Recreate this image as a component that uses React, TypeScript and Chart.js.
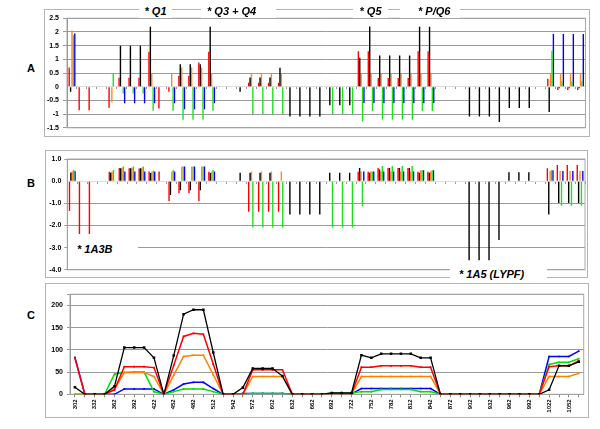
import React, { useEffect, useRef } from "react";
import { Chart, registerables } from "chart.js";

Chart.register(...registerables);

const FONT = "'Liberation Sans', Arial, Helvetica, sans-serif";

const categories = [
  "302", "317", "332", "347", "362", "377", "392", "407", "422", "437",
  "452", "467", "482", "497", "512", "527", "542", "557", "572", "587",
  "602", "617", "632", "647", "662", "677", "692", "707", "722", "737",
  "752", "767", "782", "797", "812", "827", "842", "857", "872", "887",
  "902", "917", "932", "947", "962", "977", "992", "1007", "1022", "1037",
  "1052", "1067",
];

// Panel A
const aRed = [
  0.70, -0.86, -0.86, 0, -0.77, 0.33, 0.33, 0.33, 1.28, -0.80,
  -0.18, 0.40, 0.40, 0.88, 1.28, 0, 0, 0, 0.14, 0.14,
  0.14, 0.14, 0, 0, 0, 0, 0, 0, 0, 1.29,
  1.29, 0.32, 0.32, 0.32, 0.32, 1.29, 1.29, 0, 0, 0,
  0, 0, 0, 0, 0, 0, 0, 0, 0.29, -0.12,
  -0.12, -0.12,
];
const aBlack = [
  -0.18, 0, 0, 0, 0, 1.49, 1.49, 1.49, 2.19, 0,
  0, 0.82, 0.82, 0.82, 2.19, 0, 0, -0.18, 0.34, 0.34,
  0.34, 0.69, -1.09, -1.09, -1.09, -1.09, -0.68, -0.68, -0.68, 1.06,
  2.2, 1.14, 1.14, 1.14, 1.14, 2.19, 2.19, 0, 0, 0,
  -1.09, -1.09, -1.09, -1.29, -0.78, -0.78, -0.78, 0, -0.92, -0.06,
  -0.06, -0.06,
];
const aOrange = [
  2.05, 0, 0, 0, -0.58, 0, 0, 0, 0.49, 0,
  0.49, 0.70, 0.70, 0.70, 0.49, 0, 0, 0, 0.5, 0.5,
  0.5, 0.5, 0, 0, 0, 0, 0, 0, 0, 0.5,
  0.5, 0.5, 0.5, 0.5, 0.5, 0.5, 0.5, 0, 0, 0,
  0, 0, 0, 0, 0, 0, 0, 0, 0.5, 0.5,
  0.5, 0.5,
];
const aGreen = [
  1.88, 0, 0, 0, 0.49, -0.25, -0.25, -0.25, -0.88, 0,
  -0.88, -1.21, -1.21, -1.21, -0.88, 0, 0, 0, -1.0, -1.0,
  -1.0, -1.0, 0, 0, 0, 0, -1.0, -1.0, -1.0, -1.27,
  -0.89, -1.21, -1.21, -1.21, -1.21, -0.89, -0.89, 0, 0, 0,
  0, 0, 0, 0, 0, 0, 0, 0, 1.31, 0.2,
  0.2, 0.2,
];
const aBlue = [
  1.94, 0, 0, 0, 0, -0.6, -0.6, -0.6, -0.6, 0,
  -0.6, -0.82, -0.82, -0.82, -0.6, 0, 0, 0, 0, 0,
  0, 0, 0, 0, 0, 0, 0, 0, 0, -0.6,
  -0.6, -0.6, -0.6, -0.6, -0.6, -0.6, -0.6, 0, 0, 0,
  0, 0, 0, 0, 0, 0, 0, 0, 1.92, 1.92,
  1.92, 1.92,
];

// Panel B
const bRed = [
  -1.35, -2.39, -2.39, 0, 0.43, 0.59, 0.58, 0.57, 0.44, 0.44,
  -0.89, -0.55, -0.55, -0.89, 0.43, 0, 0, 0, -1.38, -1.38,
  -1.38, -1.38, 0, 0, 0, 0, 0, 0, 0, 0.43,
  0.43, 0.59, 0.59, 0.59, 0.59, 0.43, 0.43, 0, 0, 0,
  0, 0, 0, 0, 0, 0, 0, 0, 0.58, 0.73,
  0.73, 0.73,
];
const bBlack = [
  0.39, 0, 0, 0, 0.38, 0.58, 0.58, 0.58, 0.37, 0,
  -0.62, -0.41, -0.41, -0.41, 0.37, 0, 0, 0.38, 0.38, 0.38,
  0.38, 0, -1.5, -1.5, -1.5, -1.5, 0.38, 0.38, 0.38, 0.59,
  0.38, 0.53, 0.59, 0.59, 0.59, 0.38, 0.38, 0, 0, 0,
  -3.57, -3.57, -3.57, -2.65, 0.4, 0.4, 0.4, 0, -1.5, -0.99,
  -0.99, -0.99,
];
const bOrange = [
  0.44, 0, 0, 0, 0.44, 0.62, 0.62, 0.62, 0.44, 0,
  0.44, 0.65, 0.65, 0.65, 0.44, 0, 0, 0, 0.44, 0.44,
  0.44, 0.44, 0, 0, 0, 0, 0, 0, 0, 0.44,
  0.44, 0.44, 0.44, 0.44, 0.44, 0.49, 0.44, 0, 0, 0,
  0, 0, 0, 0, 0, 0, 0, 0, 0.46, 0.46,
  0.46, 0.46,
];
const bGreen = [
  0.5, 0, 0, 0, 0.5, 0.66, 0.66, 0.66, 0.47, 0,
  0.5, 0.66, 0.66, 0.66, 0.5, 0, 0, 0, -2.09, -2.09,
  -2.09, -2.09, 0, 0, 0, 0, -2.09, -2.09, -2.09, -1.13,
  0.44, 0.68, 0.68, 0.68, 0.68, 0.49, 0.49, 0, 0, 0,
  0, 0, 0, 0, 0, 0, 0, 0, 0.49, -1.11,
  -1.11, -1.11,
];
const bBlue = [
  0.45, 0, 0, 0, 0, 0.44, 0.44, 0.44, 0.44, 0,
  0.44, 0.66, 0.66, 0.66, 0.44, 0, 0, 0, 0, 0,
  0, 0, 0, 0, 0, 0, 0, 0, 0, 0.44,
  0.44, 0.44, 0.44, 0.44, 0.44, 0.49, 0.49, 0, 0, 0,
  0, 0, 0, 0, 0, 0, 0, 0, 0.49, 0.46,
  0.46, 0.46,
];

// Panel C
const cBlack = [
  16, 0, 0, 0, 18, 105, 105, 105, 82, 0,
  87, 180, 190, 190, 94, 0, 0, 15, 58, 58,
  58, 41, 0, 0, 0, 0, 3, 3, 3, 88,
  82, 91, 91, 91, 91, 82, 82, 0, 0, 0,
  0, 0, 0, 0, 0, 0, 0, 0, 10, 64,
  64, 73,
];
const cRed = [
  81, 0, 0, 0, 10, 62, 62, 62, 60, 0,
  65, 130, 137, 135, 68, 0, 0, 0, 55, 55,
  55, 55, 0, 0, 0, 0, 1, 1, 1, 61,
  61, 64, 64, 64, 64, 61, 61, 0, 0, 0,
  0, 0, 0, 0, 0, 0, 0, 0, 62, 64,
  64, 75,
];
const cOrange = [
  0, 0, 0, 0, 12, 49, 49, 49, 40, 0,
  43, 85, 88, 88, 44, 0, 0, 0, 40, 40,
  40, 40, 0, 0, 0, 0, 1, 1, 1, 40,
  40, 40, 40, 40, 40, 40, 40, 0, 0, 0,
  0, 0, 0, 0, 0, 0, 0, 0, 40, 40,
  40, 47,
];
const cGreen = [
  0, 0, 0, 0, 45, 49, 50, 50, 6, 0,
  6, 12, 12, 12, 6, 0, 0, 0, 2, 2,
  2, 2, 0, 0, 0, 0, 3, 3, 3, 6,
  6, 11, 11, 11, 11, 6, 6, 0, 0, 0,
  0, 0, 0, 0, 0, 0, 0, 0, 67, 72,
  72, 80,
];
const cBlue = [
  83, 0, 0, 0, 0, 12, 12, 12, 12, 0,
  10, 23, 27, 27, 13, 0, 0, 2, 2, 2,
  2, 2, 0, 0, 0, 0, 1, 1, 1, 13,
  13, 13, 13, 13, 13, 13, 13, 0, 0, 0,
  0, 0, 0, 0, 0, 0, 0, 0, 85, 85,
  85, 97,
];

const RED = "#ff0000";
const BLACK = "#000000";
const ORANGE = "#ff8a20";
const GREEN = "#1ee01e";
const BLUE = "#0000ff";

const frame = (color: string) => ({
  id: "frame",
  beforeDatasetsDraw(chart: any) {
    const { ctx, chartArea: a } = chart;
    ctx.save();
    ctx.strokeStyle = color;
    ctx.lineWidth = 1;
    ctx.strokeRect(a.left, a.top, a.right - a.left, a.bottom - a.top);
    ctx.restore();
  },
});

const tickFont = { family: FONT, size: 7, weight: "bold" as const };

function barConfig(
  series: { data: number[]; color: string }[],
  min: number,
  max: number,
  fmt: (v: number) => string,
  pad: { top: number; right: number; bottom: number; left: number },
  yWidth: number,
  tickLen: number,
  tickPad: number
): any {
  return {
    type: "bar",
    data: {
      labels: categories,
      datasets: series.map((s) => ({
        data: s.data,
        backgroundColor: s.color,
        borderWidth: 0,
        categoryPercentage: 0.7,
        barPercentage: 1.0,
      })),
    },
    options: {
      animation: false,
      responsive: false,
      events: [],
      layout: { padding: pad },
      plugins: { legend: { display: false }, tooltip: { enabled: false } },
      scales: {
        x: {
          position: { y: 0 },
          ticks: { display: false },
          grid: { drawOnChartArea: false, tickLength: 2, color: "#9a9a9a" },
          border: { color: "#dddddd" },
          afterFit: (s: any) => {
            s.height = 0;
          },
        },
        y: {
          min,
          max,
          ticks: {
            stepSize: 0.5,
            callback: (v: any) => fmt(Number(v)),
            font: tickFont,
            color: "#000",
            padding: tickPad,
          },
          grid: {
            color: (c: any) =>
              c.tick && Math.abs(c.tick.value) < 1e-9 ? "rgba(0,0,0,0)" : "#9a9a9a",
            tickLength: tickLen,
          },
          border: { color: "#888888" },
          afterFit: (s: any) => {
            s.width = yWidth;
          },
        },
      },
    },
    plugins: [frame("#a8a8a8")],
  };
}

function lineConfig(): any {
  const mk = (data: number[], color: string, r: number, w: number) => ({
    data,
    borderColor: color,
    backgroundColor: color,
    borderWidth: w,
    pointStyle: "rect",
    pointRadius: r,
    pointBorderWidth: 0,
    tension: 0,
  });
  return {
    type: "line",
    data: {
      labels: categories,
      datasets: [
        mk(cBlack, BLACK, 1.8, 1.3),
        mk(cRed, RED, 1.2, 1.5),
        mk(cOrange, "#ff8000", 1.2, 1.5),
        mk(cGreen, "#00dd00", 1.2, 1.5),
        mk(cBlue, BLUE, 1.2, 1.5),
      ],
    },
    options: {
      animation: false,
      responsive: false,
      events: [],
      layout: { padding: { top: 10.2, right: 1, bottom: 0, left: 0 } },
      plugins: { legend: { display: false }, tooltip: { enabled: false } },
      scales: {
        x: {
          offset: true,
          ticks: {
            autoSkip: false,
            maxRotation: 90,
            minRotation: 90,
            callback: (_v: any, i: number) => (i % 2 === 0 ? categories[i] : ""),
            font: { family: FONT, size: 6, weight: "bold" },
            color: "#000",
            padding: 2,
          },
          grid: { drawOnChartArea: false, tickLength: 3, color: "#888888" },
          border: { color: "#888888" },
          afterFit: (s: any) => {
            s.height = 22.7;
          },
        },
        y: {
          min: 0,
          max: 225,
          ticks: {
            stepSize: 50,
            callback: (v: any) => (Number(v) % 50 === 0 ? String(v) : ""),
            font: tickFont,
            color: "#000",
            padding: 4,
          },
          grid: { color: "#9a9a9a", tickLength: 3 },
          border: { color: "#888888" },
          afterFit: (s: any) => {
            s.width = 24;
          },
        },
      },
    },
    plugins: [frame("#a8a8a8")],
  };
}

function ChartCanvas(props: {
  make: () => any;
  left: number;
  top: number;
  width: number;
  height: number;
}) {
  const ref = useRef<HTMLCanvasElement>(null);
  useEffect(() => {
    const chart = new Chart(ref.current as HTMLCanvasElement, props.make());
    return () => chart.destroy();
  }, []);
  return (
    <canvas
      ref={ref}
      width={props.width}
      height={props.height}
      style={{
        position: "absolute",
        left: props.left,
        top: props.top,
        width: props.width,
        height: props.height,
      }}
    />
  );
}

function Box(props: { x: number; y: number; w: number; h: number }) {
  return (
    <div
      style={{
        position: "absolute",
        left: props.x,
        top: props.y,
        width: props.w - 2,
        height: props.h - 2,
        border: "1px solid #b4b4b4",
      }}
    />
  );
}

const noteBase: React.CSSProperties = {
  position: "absolute",
  background: "#fff",
  fontFamily: FONT,
  fontWeight: "bold",
  fontStyle: "italic",
  fontSize: 11,
  lineHeight: "13px",
  color: "#000",
  whiteSpace: "nowrap",
  boxSizing: "border-box",
};

const letter: React.CSSProperties = {
  position: "absolute",
  fontFamily: FONT,
  fontWeight: "bold",
  fontSize: 11,
  lineHeight: "11px",
  color: "#000",
};

export default function App() {
  const seriesA = [
    { data: aRed, color: RED },
    { data: aBlack, color: BLACK },
    { data: aOrange, color: ORANGE },
    { data: aGreen, color: GREEN },
    { data: aBlue, color: BLUE },
  ];
  const seriesB = [
    { data: bRed, color: RED },
    { data: bBlack, color: BLACK },
    { data: bOrange, color: ORANGE },
    { data: bGreen, color: GREEN },
    { data: bBlue, color: BLUE },
  ];
  return (
    <div
      style={{
        position: "fixed",
        left: 0,
        top: 0,
        width: 600,
        height: 429,
        background: "#fff",
        overflow: "hidden",
      }}
    >
      <Box x={44} y={9} w={546} h={128} />
      <Box x={45} y={150} w={543} h={128} />
      <Box x={45} y={283} w={544} h={135} />

      <ChartCanvas
        left={45}
        top={10}
        width={544}
        height={126}
        make={() =>
          barConfig(
            seriesA,
            -1.5,
            2.5,
            (v) => String(Math.round(v * 10) / 10),
            { top: 6.7, right: 3.5, bottom: 6, left: 0 },
            22,
            4,
            4
          )
        }
      />
      <ChartCanvas
        left={46}
        top={151}
        width={541}
        height={126}
        make={() =>
          barConfig(
            seriesB,
            -4,
            1,
            (v) => v.toFixed(1),
            { top: 8, right: 2, bottom: 5.7, left: 0 },
            21.3,
            3,
            3
          )
        }
      />
      <ChartCanvas left={46} top={284} width={542} height={133} make={lineConfig} />

      <div style={{ ...letter, left: 27, top: 63 }}>A</div>
      <div style={{ ...letter, left: 27, top: 178 }}>B</div>
      <div style={{ ...letter, left: 27, top: 310 }}>C</div>

      <div style={{ ...noteBase, left: 139, top: 5, width: 33, height: 13, textAlign: "center" }}>* Q1</div>
      <div style={{ ...noteBase, left: 201, top: 5, width: 75, height: 13, paddingLeft: 6 }}>* Q3 + Q4</div>
      <div style={{ ...noteBase, left: 353, top: 5, width: 35, height: 13, textAlign: "center" }}>* Q5</div>
      <div style={{ ...noteBase, left: 400, top: 5, width: 60, height: 13, paddingLeft: 18 }}>* P/Q6</div>
      <div style={{ ...noteBase, left: 68, top: 243, width: 70, height: 13, paddingLeft: 9 }}>* 1A3B</div>
      <div style={{ ...noteBase, left: 450, top: 265, width: 97, height: 17, paddingLeft: 9, paddingTop: 3 }}>* 1A5 (LYPF)</div>
    </div>
  );
}
